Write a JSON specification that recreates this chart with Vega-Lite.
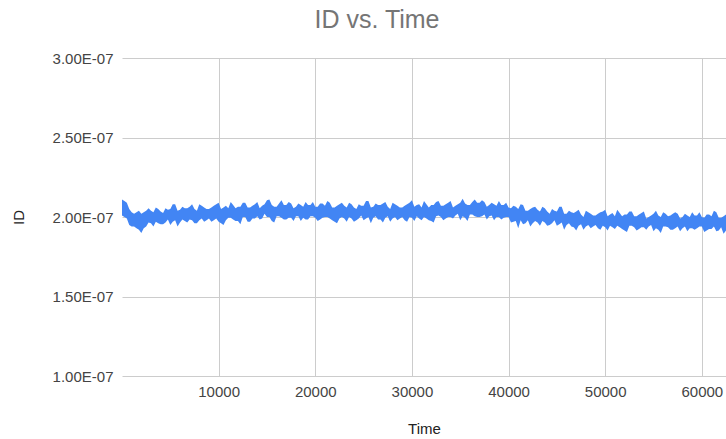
{
"$schema":"https://vega.github.io/schema/vega-lite/v6.json",
"width":604,"height":318,
"autosize":{"type":"none"},
"padding":{"left":122,"top":58,"right":0,"bottom":63},
"background":"white",
"config":{"view":{"stroke":null},"font":"Liberation Sans"},
"title":{"text":"ID vs. Time","fontSize":25,"font":"Liberation Sans","fontWeight":"normal","color":"#757575","anchor":"middle","frame":"group","dx":-47,"offset":18},
"data":{"values":[
{"Time":0,"lo":2.01e-7,"hi":2.11e-7},
{"Time":500,"lo":1.99e-7,"hi":2.09e-7},
{"Time":1000,"lo":1.94e-7,"hi":2.03e-7},
{"Time":1500,"lo":1.93e-7,"hi":2.03e-7},
{"Time":2000,"lo":1.90e-7,"hi":2.02e-7},
{"Time":2500,"lo":1.94e-7,"hi":2.04e-7},
{"Time":3000,"lo":1.96e-7,"hi":2.04e-7},
{"Time":3500,"lo":1.97e-7,"hi":2.06e-7},
{"Time":4000,"lo":1.955e-7,"hi":2.035e-7},
{"Time":4500,"lo":1.965e-7,"hi":2.055e-7},
{"Time":5000,"lo":1.95e-7,"hi":2.05e-7},
{"Time":5500,"lo":1.98e-7,"hi":2.08e-7},
{"Time":6000,"lo":1.965e-7,"hi":2.045e-7},
{"Time":6500,"lo":1.975e-7,"hi":2.055e-7},
{"Time":7000,"lo":1.985e-7,"hi":2.065e-7},
{"Time":7500,"lo":1.96e-7,"hi":2.05e-7},
{"Time":8000,"lo":1.98e-7,"hi":2.08e-7},
{"Time":8500,"lo":1.97e-7,"hi":2.06e-7},
{"Time":9000,"lo":1.99e-7,"hi":2.05e-7},
{"Time":9500,"lo":1.98e-7,"hi":2.07e-7},
{"Time":10000,"lo":1.97e-7,"hi":2.09e-7},
{"Time":10500,"lo":1.95e-7,"hi":2.06e-7},
{"Time":11000,"lo":1.995e-7,"hi":2.055e-7},
{"Time":11500,"lo":1.985e-7,"hi":2.075e-7},
{"Time":12000,"lo":1.975e-7,"hi":2.065e-7},
{"Time":12500,"lo":2.00e-7,"hi":2.09e-7},
{"Time":13000,"lo":1.97e-7,"hi":2.06e-7},
{"Time":13500,"lo":1.99e-7,"hi":2.07e-7},
{"Time":14000,"lo":2.005e-7,"hi":2.095e-7},
{"Time":14500,"lo":1.99e-7,"hi":2.07e-7},
{"Time":15000,"lo":2.00e-7,"hi":2.105e-7},
{"Time":15500,"lo":1.975e-7,"hi":2.075e-7},
{"Time":16000,"lo":2.005e-7,"hi":2.065e-7},
{"Time":16500,"lo":1.995e-7,"hi":2.105e-7},
{"Time":17000,"lo":1.985e-7,"hi":2.075e-7},
{"Time":17500,"lo":1.995e-7,"hi":2.085e-7},
{"Time":18000,"lo":2.005e-7,"hi":2.065e-7},
{"Time":18500,"lo":1.975e-7,"hi":2.075e-7},
{"Time":19000,"lo":1.985e-7,"hi":2.095e-7},
{"Time":19500,"lo":2.005e-7,"hi":2.075e-7},
{"Time":20000,"lo":1.995e-7,"hi":2.065e-7},
{"Time":20500,"lo":1.985e-7,"hi":2.085e-7},
{"Time":21000,"lo":2.00e-7,"hi":2.07e-7},
{"Time":21500,"lo":1.99e-7,"hi":2.09e-7},
{"Time":22000,"lo":1.97e-7,"hi":2.06e-7},
{"Time":22500,"lo":1.99e-7,"hi":2.08e-7},
{"Time":23000,"lo":1.99e-7,"hi":2.07e-7},
{"Time":23500,"lo":2.00e-7,"hi":2.09e-7},
{"Time":24000,"lo":1.97e-7,"hi":2.06e-7},
{"Time":24500,"lo":1.99e-7,"hi":2.08e-7},
{"Time":25000,"lo":1.98e-7,"hi":2.07e-7},
{"Time":25500,"lo":2.00e-7,"hi":2.10e-7},
{"Time":26000,"lo":1.995e-7,"hi":2.065e-7},
{"Time":26500,"lo":1.985e-7,"hi":2.075e-7},
{"Time":27000,"lo":1.965e-7,"hi":2.085e-7},
{"Time":27500,"lo":2.005e-7,"hi":2.065e-7},
{"Time":28000,"lo":1.99e-7,"hi":2.09e-7},
{"Time":28500,"lo":1.98e-7,"hi":2.07e-7},
{"Time":29000,"lo":2.00e-7,"hi":2.06e-7},
{"Time":29500,"lo":1.97e-7,"hi":2.08e-7},
{"Time":30000,"lo":1.995e-7,"hi":2.105e-7},
{"Time":30500,"lo":2.005e-7,"hi":2.075e-7},
{"Time":31000,"lo":1.98e-7,"hi":2.06e-7},
{"Time":31500,"lo":1.99e-7,"hi":2.08e-7},
{"Time":32000,"lo":1.975e-7,"hi":2.075e-7},
{"Time":32500,"lo":2.005e-7,"hi":2.095e-7},
{"Time":33000,"lo":2.00e-7,"hi":2.07e-7},
{"Time":33500,"lo":1.99e-7,"hi":2.08e-7},
{"Time":34000,"lo":2.00e-7,"hi":2.10e-7},
{"Time":34500,"lo":2.01e-7,"hi":2.07e-7},
{"Time":35000,"lo":1.98e-7,"hi":2.09e-7},
{"Time":35500,"lo":1.995e-7,"hi":2.085e-7},
{"Time":36000,"lo":2.015e-7,"hi":2.075e-7},
{"Time":36500,"lo":2.005e-7,"hi":2.11e-7},
{"Time":37000,"lo":2.00e-7,"hi":2.09e-7},
{"Time":37500,"lo":2.015e-7,"hi":2.095e-7},
{"Time":38000,"lo":2.005e-7,"hi":2.075e-7},
{"Time":38500,"lo":1.98e-7,"hi":2.08e-7},
{"Time":39000,"lo":2.00e-7,"hi":2.10e-7},
{"Time":39500,"lo":1.995e-7,"hi":2.075e-7},
{"Time":40000,"lo":2.00e-7,"hi":2.06e-7},
{"Time":40500,"lo":1.97e-7,"hi":2.07e-7},
{"Time":41000,"lo":1.93e-7,"hi":2.05e-7},
{"Time":41500,"lo":1.955e-7,"hi":2.075e-7},
{"Time":42000,"lo":1.98e-7,"hi":2.04e-7},
{"Time":42500,"lo":1.96e-7,"hi":2.06e-7},
{"Time":43000,"lo":1.965e-7,"hi":2.045e-7},
{"Time":43500,"lo":1.975e-7,"hi":2.065e-7},
{"Time":44000,"lo":1.945e-7,"hi":2.035e-7},
{"Time":44500,"lo":1.96e-7,"hi":2.05e-7},
{"Time":45000,"lo":1.945e-7,"hi":2.035e-7},
{"Time":45500,"lo":1.965e-7,"hi":2.065e-7},
{"Time":46000,"lo":1.95e-7,"hi":2.02e-7},
{"Time":46500,"lo":1.94e-7,"hi":2.03e-7},
{"Time":47000,"lo":1.915e-7,"hi":2.035e-7},
{"Time":47500,"lo":1.955e-7,"hi":2.015e-7},
{"Time":48000,"lo":1.94e-7,"hi":2.04e-7},
{"Time":48500,"lo":1.93e-7,"hi":2.02e-7},
{"Time":49000,"lo":1.95e-7,"hi":2.01e-7},
{"Time":49500,"lo":1.92e-7,"hi":2.03e-7},
{"Time":50000,"lo":1.935e-7,"hi":2.045e-7},
{"Time":50500,"lo":1.945e-7,"hi":2.015e-7},
{"Time":51000,"lo":1.925e-7,"hi":2.005e-7},
{"Time":51500,"lo":1.935e-7,"hi":2.025e-7},
{"Time":52000,"lo":1.915e-7,"hi":2.015e-7},
{"Time":52500,"lo":1.945e-7,"hi":2.035e-7},
{"Time":53000,"lo":1.935e-7,"hi":2.005e-7},
{"Time":53500,"lo":1.925e-7,"hi":2.015e-7},
{"Time":54000,"lo":1.935e-7,"hi":2.035e-7},
{"Time":54500,"lo":1.94e-7,"hi":2.00e-7},
{"Time":55000,"lo":1.91e-7,"hi":2.02e-7},
{"Time":55500,"lo":1.92e-7,"hi":2.01e-7},
{"Time":56000,"lo":1.94e-7,"hi":2.03e-7},
{"Time":56500,"lo":1.935e-7,"hi":2.005e-7},
{"Time":57000,"lo":1.92e-7,"hi":2.02e-7},
{"Time":57500,"lo":1.94e-7,"hi":2.02e-7},
{"Time":58000,"lo":1.93e-7,"hi":2.00e-7},
{"Time":58500,"lo":1.91e-7,"hi":2.01e-7},
{"Time":59000,"lo":1.93e-7,"hi":2.03e-7},
{"Time":59500,"lo":1.93e-7,"hi":2.01e-7},
{"Time":60000,"lo":1.94e-7,"hi":2.00e-7},
{"Time":60500,"lo":1.915e-7,"hi":2.015e-7},
{"Time":61000,"lo":1.925e-7,"hi":2.005e-7},
{"Time":61500,"lo":1.91e-7,"hi":2.03e-7},
{"Time":62000,"lo":1.935e-7,"hi":1.995e-7},
{"Time":62500,"lo":1.915e-7,"hi":2.015e-7},
{"Time":250,"lo":2.00e-7,"hi":2.10e-7},
{"Time":750,"lo":1.95e-7,"hi":2.05e-7},
{"Time":1250,"lo":1.94e-7,"hi":2.02e-7},
{"Time":1750,"lo":1.92e-7,"hi":2.04e-7},
{"Time":2250,"lo":1.93e-7,"hi":2.03e-7},
{"Time":2750,"lo":1.965e-7,"hi":2.055e-7},
{"Time":3250,"lo":1.94e-7,"hi":2.03e-7},
{"Time":3750,"lo":1.96e-7,"hi":2.05e-7},
{"Time":4250,"lo":1.955e-7,"hi":2.025e-7},
{"Time":4750,"lo":1.985e-7,"hi":2.045e-7},
{"Time":5250,"lo":1.97e-7,"hi":2.08e-7},
{"Time":5750,"lo":1.94e-7,"hi":2.04e-7},
{"Time":6250,"lo":1.985e-7,"hi":2.065e-7},
{"Time":6750,"lo":1.965e-7,"hi":2.055e-7},
{"Time":7250,"lo":1.98e-7,"hi":2.08e-7},
{"Time":7750,"lo":1.96e-7,"hi":2.04e-7},
{"Time":8250,"lo":1.99e-7,"hi":2.07e-7},
{"Time":8750,"lo":1.98e-7,"hi":2.05e-7},
{"Time":9250,"lo":1.97e-7,"hi":2.06e-7},
{"Time":9750,"lo":1.99e-7,"hi":2.08e-7},
{"Time":10250,"lo":1.96e-7,"hi":2.05e-7},
{"Time":10750,"lo":1.98e-7,"hi":2.07e-7},
{"Time":11250,"lo":1.995e-7,"hi":2.095e-7},
{"Time":11750,"lo":1.975e-7,"hi":2.055e-7},
{"Time":12250,"lo":1.955e-7,"hi":2.065e-7},
{"Time":12750,"lo":2.00e-7,"hi":2.09e-7},
{"Time":13250,"lo":1.97e-7,"hi":2.06e-7},
{"Time":13750,"lo":1.99e-7,"hi":2.08e-7},
{"Time":14250,"lo":1.985e-7,"hi":2.055e-7},
{"Time":14750,"lo":2.02e-7,"hi":2.08e-7},
{"Time":15250,"lo":2.00e-7,"hi":2.11e-7},
{"Time":15750,"lo":1.965e-7,"hi":2.065e-7},
{"Time":16250,"lo":2.005e-7,"hi":2.085e-7},
{"Time":16750,"lo":1.985e-7,"hi":2.075e-7},
{"Time":17250,"lo":1.995e-7,"hi":2.095e-7},
{"Time":17750,"lo":1.975e-7,"hi":2.055e-7},
{"Time":18250,"lo":2.005e-7,"hi":2.085e-7},
{"Time":18750,"lo":1.995e-7,"hi":2.065e-7},
{"Time":19250,"lo":1.985e-7,"hi":2.075e-7},
{"Time":19750,"lo":2.005e-7,"hi":2.095e-7},
{"Time":20250,"lo":1.975e-7,"hi":2.065e-7},
{"Time":20750,"lo":1.995e-7,"hi":2.085e-7},
{"Time":21250,"lo":2.00e-7,"hi":2.10e-7},
{"Time":21750,"lo":1.98e-7,"hi":2.06e-7},
{"Time":22250,"lo":1.96e-7,"hi":2.07e-7},
{"Time":22750,"lo":2.00e-7,"hi":2.09e-7},
{"Time":23250,"lo":1.97e-7,"hi":2.06e-7},
{"Time":23750,"lo":1.99e-7,"hi":2.08e-7},
{"Time":24250,"lo":1.98e-7,"hi":2.05e-7},
{"Time":24750,"lo":2.01e-7,"hi":2.07e-7},
{"Time":25250,"lo":1.99e-7,"hi":2.10e-7},
{"Time":25750,"lo":1.96e-7,"hi":2.06e-7},
{"Time":26250,"lo":2.005e-7,"hi":2.085e-7},
{"Time":26750,"lo":1.985e-7,"hi":2.075e-7},
{"Time":27250,"lo":1.995e-7,"hi":2.095e-7},
{"Time":27750,"lo":1.97e-7,"hi":2.05e-7},
{"Time":28250,"lo":2.00e-7,"hi":2.08e-7},
{"Time":28750,"lo":1.99e-7,"hi":2.06e-7},
{"Time":29250,"lo":1.98e-7,"hi":2.07e-7},
{"Time":29750,"lo":2.00e-7,"hi":2.09e-7},
{"Time":30250,"lo":1.975e-7,"hi":2.065e-7},
{"Time":30750,"lo":1.99e-7,"hi":2.08e-7},
{"Time":31250,"lo":2.00e-7,"hi":2.10e-7},
{"Time":31750,"lo":1.98e-7,"hi":2.06e-7},
{"Time":32250,"lo":1.965e-7,"hi":2.075e-7},
{"Time":32750,"lo":2.01e-7,"hi":2.10e-7},
{"Time":33250,"lo":1.98e-7,"hi":2.07e-7},
{"Time":33750,"lo":2.00e-7,"hi":2.09e-7},
{"Time":34250,"lo":1.99e-7,"hi":2.06e-7},
{"Time":34750,"lo":2.02e-7,"hi":2.08e-7},
{"Time":35250,"lo":2.005e-7,"hi":2.115e-7},
{"Time":35750,"lo":1.975e-7,"hi":2.075e-7},
{"Time":36250,"lo":2.015e-7,"hi":2.095e-7},
{"Time":36750,"lo":2.00e-7,"hi":2.09e-7},
{"Time":37250,"lo":2.005e-7,"hi":2.105e-7},
{"Time":37750,"lo":1.985e-7,"hi":2.065e-7},
{"Time":38250,"lo":2.01e-7,"hi":2.09e-7},
{"Time":38750,"lo":2.00e-7,"hi":2.07e-7},
{"Time":39250,"lo":1.985e-7,"hi":2.075e-7},
{"Time":39750,"lo":2.00e-7,"hi":2.09e-7},
{"Time":40250,"lo":1.965e-7,"hi":2.055e-7},
{"Time":40750,"lo":1.975e-7,"hi":2.065e-7},
{"Time":41250,"lo":1.98e-7,"hi":2.08e-7},
{"Time":41750,"lo":1.96e-7,"hi":2.04e-7},
{"Time":42250,"lo":1.94e-7,"hi":2.05e-7},
{"Time":42750,"lo":1.975e-7,"hi":2.065e-7},
{"Time":43250,"lo":1.945e-7,"hi":2.035e-7},
{"Time":43750,"lo":1.965e-7,"hi":2.055e-7},
{"Time":44250,"lo":1.95e-7,"hi":2.02e-7},
{"Time":44750,"lo":1.98e-7,"hi":2.04e-7},
{"Time":45250,"lo":1.955e-7,"hi":2.065e-7},
{"Time":45750,"lo":1.92e-7,"hi":2.02e-7},
{"Time":46250,"lo":1.96e-7,"hi":2.04e-7},
{"Time":46750,"lo":1.935e-7,"hi":2.025e-7},
{"Time":47250,"lo":1.945e-7,"hi":2.045e-7},
{"Time":47750,"lo":1.92e-7,"hi":2.00e-7},
{"Time":48250,"lo":1.95e-7,"hi":2.03e-7},
{"Time":48750,"lo":1.94e-7,"hi":2.01e-7},
{"Time":49250,"lo":1.93e-7,"hi":2.02e-7},
{"Time":49750,"lo":1.945e-7,"hi":2.035e-7},
{"Time":50250,"lo":1.915e-7,"hi":2.005e-7},
{"Time":50750,"lo":1.935e-7,"hi":2.025e-7},
{"Time":51250,"lo":1.945e-7,"hi":2.045e-7},
{"Time":51750,"lo":1.925e-7,"hi":2.005e-7},
{"Time":52250,"lo":1.905e-7,"hi":2.015e-7},
{"Time":52750,"lo":1.945e-7,"hi":2.035e-7},
{"Time":53250,"lo":1.915e-7,"hi":2.005e-7},
{"Time":53750,"lo":1.935e-7,"hi":2.025e-7},
{"Time":54250,"lo":1.92e-7,"hi":1.99e-7},
{"Time":54750,"lo":1.95e-7,"hi":2.01e-7},
{"Time":55250,"lo":1.93e-7,"hi":2.04e-7},
{"Time":55750,"lo":1.90e-7,"hi":2.00e-7},
{"Time":56250,"lo":1.94e-7,"hi":2.02e-7},
{"Time":56750,"lo":1.92e-7,"hi":2.01e-7},
{"Time":57250,"lo":1.93e-7,"hi":2.03e-7},
{"Time":57750,"lo":1.91e-7,"hi":1.99e-7},
{"Time":58250,"lo":1.94e-7,"hi":2.02e-7},
{"Time":58750,"lo":1.93e-7,"hi":2.00e-7},
{"Time":59250,"lo":1.92e-7,"hi":2.01e-7},
{"Time":59750,"lo":1.94e-7,"hi":2.03e-7},
{"Time":60250,"lo":1.905e-7,"hi":1.995e-7},
{"Time":60750,"lo":1.925e-7,"hi":2.015e-7},
{"Time":61250,"lo":1.94e-7,"hi":2.04e-7},
{"Time":61750,"lo":1.915e-7,"hi":1.995e-7},
{"Time":62250,"lo":1.895e-7,"hi":2.005e-7}
]},
"mark":{"type":"area","color":"#4285F4","clip":true,"opacity":1},
"encoding":{
"x":{"field":"Time","type":"quantitative","scale":{"domain":[0,62500],"nice":false},
"axis":{"values":[10000,20000,30000,40000,50000,60000],"format":"d","grid":true,"gridColor":"#cccccc","domain":false,"ticks":false,"labelFontSize":15,"labelColor":"#444444","labelPadding":8,"title":"Time","titleFontSize":15,"titleFontWeight":"normal","titleColor":"#222222","titlePadding":22}},
"y":{"field":"lo","type":"quantitative","scale":{"domain":[1e-7,3e-7],"nice":false,"zero":false},
"axis":{"values":[1e-7,1.5e-7,2e-7,2.5e-7,3e-7],"labelExpr":"replace(format(datum.value,'.2e'),'e-','E-0')","grid":true,"gridColor":"#cccccc","domain":false,"ticks":false,"labelFontSize":15,"labelColor":"#444444","labelPadding":9,"title":"ID","titleFontSize":15,"titleFontWeight":"normal","titleColor":"#222222","titlePadding":26}},
"y2":{"field":"hi"}
}
}
